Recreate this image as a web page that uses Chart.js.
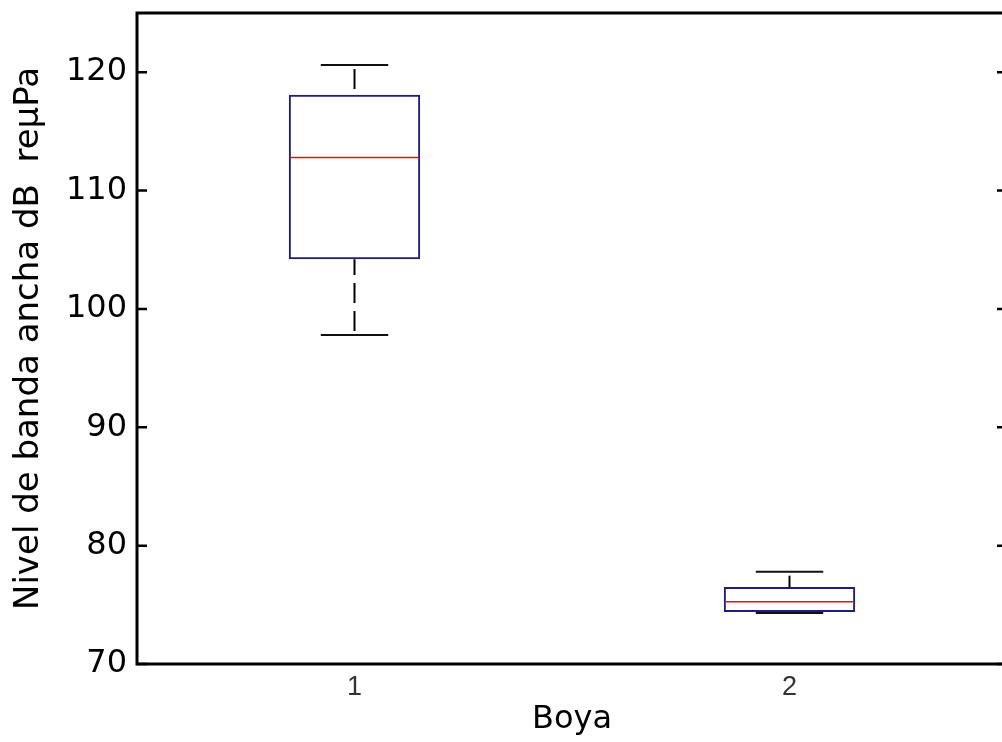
<!DOCTYPE html>
<html>
<head>
<meta charset="utf-8">
<script src="https://cdn.jsdelivr.net/npm/chart.js@4/dist/chart.umd.min.js"></script>
<style>
  html, body { margin: 0; padding: 0; background: #fff; overflow: hidden; }
  #wrap { width: 1010px; height: 742px; }
</style>
</head>
<body>
<div id="wrap"><canvas id="boxChart" width="1010" height="742"></canvas></div>
<script>
// Boyas y estadísticos del nivel de banda ancha (dB re µPa)
const boyas = ['1', '2'];
const bigoteInf = [97.8, 74.3];
const cuartil1 = [104.2, 74.4];
const mediana = [112.8, 75.25];
const cuartil3 = [118.1, 76.5];
const bigoteSup = [120.6, 77.8];
const yTicks = [70, 80, 90, 100, 110, 120];

const COLOR_CAJA = '#1f1f7a';
const COLOR_MEDIANA = '#e0101e';
const CAP_FRACTION = 0.155;
const TICK_LEN = 10;

// Mediana, bigotes y topes sobre las cajas
const extrasCaja = {
    id: 'extrasCaja',
    afterDatasetsDraw(chart) {
        const { ctx, scales: { x, y } } = chart;
        const meta = chart.getDatasetMeta(0);
        const paso = x.getPixelForValue(1) - x.getPixelForValue(0);
        const capHalf = paso * CAP_FRACTION / 2;

        const linea = (x1, y1, x2, y2) => {
            ctx.beginPath();
            ctx.moveTo(x1, y1);
            ctx.lineTo(x2, y2);
            ctx.stroke();
        };

        ctx.save();
        boyas.forEach((_, i) => {
            const bar = meta.data[i];
            const cx = bar.x;
            const half = bar.width / 2;
            const ySup = y.getPixelForValue(bigoteSup[i]);
            const yInf = y.getPixelForValue(bigoteInf[i]);
            const yQ1 = y.getPixelForValue(cuartil1[i]);
            const yQ3 = y.getPixelForValue(cuartil3[i]);
            const yMed = y.getPixelForValue(mediana[i]);

            // bigotes discontinuos
            ctx.strokeStyle = '#000';
            ctx.lineWidth = 2;
            ctx.setLineDash([20, 8]);
            ctx.lineDashOffset = 24;
            linea(cx, ySup, cx, yQ3);
            linea(cx, yInf, cx, yQ1);
            ctx.setLineDash([]);

            // topes
            ctx.lineWidth = 2;
            ctx.strokeStyle = '#111';
            linea(cx - capHalf, ySup, cx + capHalf, ySup);
            linea(cx - capHalf, yInf, cx + capHalf, yInf);

            // mediana
            ctx.strokeStyle = COLOR_MEDIANA;
            ctx.lineWidth = 1.5;
            linea(cx - half + 1, yMed, cx + half - 1, yMed);
        });
        ctx.restore();
    },
    afterDraw(chart) {
        const { ctx, chartArea: a, scales: { y } } = chart;
        ctx.save();
        ctx.strokeStyle = '#000';
        ctx.lineWidth = 3;
        ctx.strokeRect(a.left, a.top, a.right - a.left, a.bottom - a.top);

        // marcas hacia dentro a ambos lados
        ctx.lineWidth = 2.5;
        y.ticks.forEach(t => {
            const py = y.getPixelForValue(t.value);
            ctx.beginPath();
            ctx.moveTo(a.left, py);
            ctx.lineTo(a.left + TICK_LEN, py);
            ctx.moveTo(a.right, py);
            ctx.lineTo(a.right - TICK_LEN, py);
            ctx.stroke();
        });
        ctx.restore();
    }
};

const ctx = document.getElementById('boxChart').getContext('2d');
const chart = new Chart(ctx, {
    type: 'bar',
    data: {
        labels: boyas,
        datasets: [{
            data: boyas.map((_, i) => [cuartil1[i], cuartil3[i]]),
            backgroundColor: 'rgba(0,0,0,0)',
            borderColor: COLOR_CAJA,
            borderWidth: 2,
            borderSkipped: false,
            categoryPercentage: 1,
            barPercentage: 0.302
        }]
    },
    options: {
        responsive: false,
        animation: false,
        layout: { padding: { left: 0, top: 13, right: 3, bottom: 0 } },
        plugins: {
            legend: { display: false },
            tooltip: { enabled: false }
        },
        scales: {
            x: {
                grid: { display: false, drawTicks: false },
                border: { display: false },
                ticks: {
                    padding: 7,
                    color: '#333',
                    font: { family: 'Liberation Sans', size: 27 }
                },
                title: {
                    display: true,
                    text: 'Boya',
                    color: '#000',
                    padding: { top: 0, bottom: 3 },
                    font: { family: 'DejaVu Sans', size: 32 }
                },
                afterFit(scale) {
                    scale.height = 78;
                    scale.paddingLeft = 0;
                    scale.paddingRight = 0;
                }
            },
            y: {
                min: 70,
                max: 125,
                grid: { display: false, drawTicks: false },
                border: { display: false },
                ticks: {
                    stepSize: 10,
                    padding: 10,
                    color: '#000',
                    font: { family: 'DejaVu Sans', size: 32 }
                },
                afterBuildTicks(scale) {
                    scale.ticks = yTicks.map(v => ({ value: v }));
                },
                title: {
                    display: true,
                    text: 'Nivel de banda ancha dB  reµPa',
                    color: '#000',
                    padding: { top: 9, bottom: 0 },
                    font: { family: 'DejaVu Sans', size: 34 }
                },
                afterFit(scale) {
                    scale.width = 137;
                    scale.paddingTop = 0;
                    scale.paddingBottom = 0;
                }
            }
        }
    },
    plugins: [extrasCaja]
});
</script>
</body>
</html>
